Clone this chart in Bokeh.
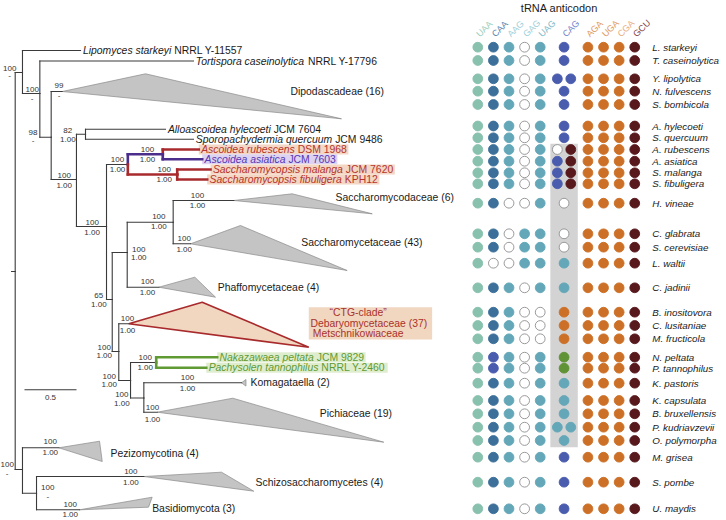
import math
from bokeh.plotting import figure
from bokeh.models import Range1d, ColumnDataSource
from bokeh.layouts import row
from bokeh.embed import file_html
from bokeh.resources import INLINE
from bokeh.core.properties import value

# ------------------------------------------------------------------ data
# tree nodes: depth = substitutions/site from root, row = vertical slot
node_names = ["root", "A", "Lip", "A2", "Tort", "A3", "Dipo", "A4", "AS", "Allo", "Sporo",
              "A5", "ASC", "Asc", "Arub", "Aasi", "Sac", "Smal", "Sfib", "A6", "A7", "A9",
              "Sccod", "Sctac", "Phaff", "A8", "CTG", "A10", "NP", "Npel", "Ptan", "A11",
              "Koma", "Pichia", "B", "Pezizo", "C", "Schizo", "Basidio"]
node_depth = [0.000, 0.070, 0.628, 0.237, 1.714, 0.346, 0.452, 0.589, 0.676, 1.445, 1.714,
              0.878, 1.083, 1.419, 1.765, 1.798, 1.558, 1.878, 1.846, 0.933, 1.077, 1.519,
              2.102, 1.686, 1.381, 0.996, 1.092, 1.109, 1.356, 1.942, 1.837, 1.237,
              2.176, 1.365, 0.070, 0.419, 0.205, 1.237, 0.618]
node_row = [271.0, 72.0, 50.0, 93.0, 60.5, 136.7, 91.0, 179.0, 133.7, 128.7, 138.7,
            226.0, 164.0, 153.8, 149.0, 158.7, 174.0, 169.0, 179.0, 299.0, 252.0, 221.7,
            200.0, 243.3, 286.7, 351.0, 323.3, 380.0, 362.0, 356.7, 367.3, 397.5,
            382.3, 411.7, 469.0, 447.3, 492.7, 476.0, 509.3]

edge_parent = ["root", "root", "A", "A", "A2", "A2", "A3", "A3", "A4", "A4", "AS", "AS",
               "A5", "A5", "ASC", "ASC", "Asc", "Asc", "Sac", "Sac", "A6", "A6", "A7", "A7",
               "A9", "A9", "A8", "A8", "A10", "A10", "NP", "NP", "A11", "A11", "B", "B", "C", "C"]
edge_child = ["A", "B", "Lip", "A2", "Tort", "A3", "Dipo", "A4", "AS", "A5", "Allo", "Sporo",
              "ASC", "A6", "Asc", "Sac", "Arub", "Aasi", "Smal", "Sfib", "A7", "A8", "A9", "Phaff",
              "Sccod", "Sctac", "CTG", "A10", "NP", "A11", "Npel", "Ptan", "Koma", "Pichia",
              "Pezizo", "C", "Schizo", "Basidio"]
edge_group = ["k"] * 14 + ["purple", "red", "red", "purple", "red", "red"] + ["k"] * 10 + \
             ["green", "green"] + ["k"] * 6

leaf_node = ["Lip", "Tort", "Allo", "Sporo", "Arub", "Aasi", "Smal", "Sfib", "Npel", "Ptan"]
leaf_species = ["Lipomyces starkeyi", "Tortispora caseinolytica", "Alloascoidea hylecoeti",
                "Sporopachydermia quercuum", "Ascoidea rubescens", "Ascoidea asiatica",
                "Saccharomycopsis malanga", "Saccharomycopsis fibuligera",
                "Nakazawaea peltata", "Pachysolen tannophilus"]
leaf_strain = ["NRRL Y-11557", "NRRL Y-17796", "JCM 7604", "JCM 9486", "DSM 1968", "JCM 7603",
               "JCM 7620", "KPH12", "JCM 9829", "NRRL Y-2460"]
leaf_group = ["k", "k", "k", "k", "red", "purple", "red", "red", "green", "green"]

clade_node = ["Dipo", "Sccod", "Sctac", "Phaff", "CTG", "Koma", "Pichia", "Pezizo", "Schizo", "Basidio"]
clade_top_depth = [1.253, 2.663, 2.166, 1.727, 1.798, 2.219, 2.092, 0.811, 1.984, 1.317]
clade_top_row = [73.3, 193.3, 225.0, 276.7, 301.7, 379.0, 397.7, 440.7, 471.7, 496.7]
clade_bot_depth = [3.137, 3.433, 3.192, 1.926, 2.823, 2.219, 3.544, 0.837, 2.294, 1.282]
clade_bot_row = [118.3, 213.3, 270.0, 296.7, 346.7, 385.6, 441.7, 461.0, 490.7, 506.7]
clade_group = ["grey", "grey", "grey", "grey", "ctg", "grey", "grey", "grey", "grey", "grey"]

clade_text = ["Dipodascadeae (16)", "Saccharomycodaceae (6)", "Saccharomycetaceae (43)",
              "Phaffomycetaceae (4)", "Komagataella (2)", "Pichiaceae (19)",
              "Pezizomycotina (4)", "Schizosaccharomycetes (4)", "Basidiomycota (3)"]
clade_text_depth = [2.647, 3.080, 2.750, 1.948, 2.263, 2.929, 0.916, 2.311, 1.317]
clade_text_row = [91.0, 196.7, 241.7, 286.7, 382.3, 412.7, 452.7, 482.3, 508.3]

ctg_lines = ["\u201cCTG-clade\u201d", "Debaryomycetaceae  (37)", "Metschnikowiaceae"]

support_bs = ["100", "100", "98", "99", "100", "82", "100", "100", "100", "100", "65", "100", "100",
              "100", "100", "100", "100", "100", "100", "100", "100", "100", "100", "100", "100",
              "100", "100", "100"]
support_pp = ["-", "-", "-", "-", "1.00", "1.00", "1.00", "1.00", "1.00", "1.00", "1.00", "1.00",
              "1.00", "1.00", "1.00", "1.00", "1.00", "1.00", "1.00", "1.00", "1.00", "1.00",
              "1.00", "-", "1.00", "-", "1.00", "1.00"]
support_depth = [-0.053, 0.163, 0.171, 0.421, 0.471, 0.506, 0.984, 1.272, 1.433, 0.740, 0.804,
                 1.188, 1.381, 1.753, 1.625, 1.272, 0.856, 1.080, 0.904, 1.250, 1.025, 1.657,
                 1.320, -0.077, 0.337, 0.313, 1.112, 0.529]
support_row_top = [68.3, 89.3, 131.7, 85.0, 175.0, 130.0, 158.7, 149.0, 169.0, 221.7, 295.0,
                   249.0, 215.7, 194.7, 238.3, 280.7, 346.7, 318.3, 376.0, 357.3, 394.3, 376.7,
                   407.3, 464.3, 440.7, 487.3, 470.7, 504.0]
support_row_bot = [75.0, 98.3, 140.0, 95.0, 185.0, 139.0, 169.3, 158.7, 179.3, 232.3, 303.7,
                   256.7, 226.0, 205.3, 249.0, 291.7, 355.0, 330.0, 384.3, 367.3, 403.3, 387.7,
                   419.0, 472.7, 452.3, 496.0, 481.7, 514.3]

scale_len = 0.5

# tRNA anticodon matrix
anticodons = ["UAA", "CAA", "AAG", "GAG", "UAG", "CAG", "AGA", "UGA", "CGA", "GCU"]
anticodon_group = [0, 0, 0, 0, 0, 1, 2, 2, 2, 2]
matrix_species = ["L. starkeyi", "T. caseinolytica", "Y. lipolytica", "N. fulvescens", "S. bombicola",
                  "A. hylecoeti", "S. quercuum", "A. rubescens", "A. asiatica", "S. malanga",
                  "S. fibuligera", "H. vineae", "C. glabrata", "S. cerevisiae", "L. waltii",
                  "C. jadinii", "B. inositovora", "C. lusitaniae", "M. fructicola", "N. peltata",
                  "P. tannophilus", "K. pastoris", "K. capsulata", "B. bruxellensis",
                  "P. kudriavzevii", "O. polymorpha", "M. grisea", "S. pombe", "U. maydis"]
matrix_row = [46.7, 60.0, 78.3, 90.7, 104.0, 125.5, 137.3, 149.0, 160.7, 172.3, 183.3, 202.7,
              233.3, 246.7, 262.7, 287.3, 311.7, 325.0, 338.3, 356.7, 367.7, 382.7, 400.0,
              413.3, 426.7, 440.0, 456.7, 481.7, 508.3]
# first five tRNAs (f filled, o absent, p blue variant) | CAG tRNA(s) | last four
matrix_calls = ["fffof|B|ffff", "fffof|B|ffff", "fffof|BB|ffff", "fffof|B|ffff", "fffof|B|ffff",
                "fffof|B|ffff", "fffof|B|ffff", "fffof|OM|ffff", "fffof|BM|ffff", "fffof|BM|ffff",
                "fffof|BM|ffff", "ffoof|O|ffff", "ffoff|O|ffff", "ffoff|O|ffff", "fooff|T|ffff",
                "fffof|T|ffff", "fffoo|R|ffff", "fffoo|R|ffff", "fffoo|R|ffff", "fpfof|G|ffff",
                "fpfof|G|ffff", "fffof|T|ffff", "fffof|T|ffff", "fffof|T|ffff", "fffof|TT|ffff",
                "fffof|T|ffff", "fffof|B|ffff", "fffof|B|ffff", "fffof|B|ffff"]
cag_band_species = ["A. rubescens", "O. polymorpha"]

# ------------------------------------------------------------------ styling / layout
FONT = "Liberation Sans"
W, H = 726, 520
IMG_W, IMG_H = 726.0, 520.0
SX = W / IMG_W
TREE_W = 466
MAT_W = W - TREE_W
PXU = 104.0          # picture px per substitution unit
ROOT_PX = 14.7
COL_PX = 15.6        # picture px per anticodon column
COL0_PX = 477.3
GROUP_GAP = 0.53

TREE_COL = {"k": "#3a3a3a", "red": "#a82a2c", "purple": "#4b2d8c", "green": "#5f9b32"}
TEXT_COL = {"k": "#1a1a1a", "red": "#b3352d", "purple": "#5836b0", "green": "#5f9b32"}
BOX_COL = {"red": "#f3d6c3", "purple": "#ddd3f0", "green": "#dfedcf"}

DOT_DEFAULT = ["#88c1ad", "#3c6f99", "#63a7b8", "#63a7b8", "#63a7b8", "#4a5cae",
               "#cd7027", "#cd7027", "#cd7027", "#58191d"]
DOT_CODE = {"B": "#4a5cae", "T": "#63a7b8", "R": "#cd7027", "G": "#5f9335", "M": "#58191d",
            "p": "#4a5cae"}
HEAD_COL = ["#9ccdbc", "#5a86ad", "#9fd0da", "#9fd0da", "#80b9c8", "#7584c8",
            "#e09a62", "#e09a62", "#e8ad80", "#86474b"]

_chars = " !\"#$%&'()*+,-./0123456789:;<=>?@ABCDEFGHIJKLMNOPQRSTUVWXYZ[\\]^_`abcdefghijklmnopqrstuvwxyz{|}~"
_w = ([278, 278, 355, 556, 556, 889, 667, 191, 333, 333, 389, 584, 278, 333, 278, 278] + [556] * 10 +
      [278, 278, 584, 584, 584, 556, 1015] +
      [667, 667, 722, 722, 667, 611, 778, 722, 278, 500, 667, 556, 833, 722, 778, 667, 778, 722,
       667, 611, 722, 667, 944, 667, 667, 611] +
      [278, 278, 278, 469, 556, 333] +
      [556, 556, 500, 556, 556, 278, 556, 556, 222, 222, 500, 222, 833, 556, 556, 556, 556, 333,
       500, 278, 556, 500, 722, 500, 500, 500] + [334, 260, 334, 584])
AW = dict(zip(_chars, _w))
AW["\u201c"] = 333
AW["\u201d"] = 333


def tw(s, fs):
    return sum(AW.get(c, 556) for c in s) / 1000.0 * fs


def fpx(v):
    return "%.2fpx" % (v * SX)


pos = {n: (d, r) for n, d, r in zip(node_names, node_depth, node_row)}
yr = Range1d(IMG_H, 0)

# ------------------------------------------------------------------ tree panel
p1 = figure(width=TREE_W, height=H, output_backend="svg", toolbar_location=None,
            x_range=Range1d(-ROOT_PX / PXU, (TREE_W / SX - ROOT_PX) / PXU), y_range=yr,
            x_axis_location=None, y_axis_location=None, min_border=0,
            outline_line_color=None)
p1.grid.visible = False

# collapsed clades
for grp, fill, line, lw in [("grey", "#c4c4c4", "#8a8a8a", 0.7), ("ctg", "#f1d6c0", "#a82a2c", 1.6)]:
    xs, ys = [], []
    for n, td, tr, bd, br, g in zip(clade_node, clade_top_depth, clade_top_row,
                                    clade_bot_depth, clade_bot_row, clade_group):
        if g != grp:
            continue
        d, r = pos[n]
        xs.append([d, td, bd])
        ys.append([r, tr, br])
    p1.patches(xs, ys, fill_color=fill, line_color=line, line_width=lw)

# boxes behind coloured leaf names
LEAF_FS = 10.4
box = dict(left=[], right=[], top=[], bottom=[], c=[])
for n, sp, st, g in zip(leaf_node, leaf_species, leaf_strain, leaf_group):
    if g == "k":
        continue
    d, r = pos[n]
    wpx = 2.0 + tw(sp + " " + st, LEAF_FS) + 2.0
    box["left"].append(d)
    box["right"].append(d + wpx / PXU)
    box["top"].append(r - 5.0)
    box["bottom"].append(r + 5.0)
    box["c"].append(BOX_COL[g])
p1.quad(source=ColumnDataSource(box), left="left", right="right", top="top", bottom="bottom",
        fill_color="c", line_color=None)

# CTG label box (starts at the clade's deepest tip)
ci = clade_node.index("CTG")
ctg_left = clade_bot_depth[ci]
CTG_FS = 10.4
ctg_w = 1.7 + tw(ctg_lines[1], CTG_FS) + 2.0
p1.quad(left=[ctg_left], right=[ctg_left + ctg_w / PXU], top=[306.7], bottom=[339.0],
        fill_color="#f1d6c0", line_color=None)

# branches
for grp_set, lw in [(("k",), 1.1), (("red", "purple", "green"), 2.6)]:
    seg = dict(x0=[], y0=[], x1=[], y1=[], c=[])
    for par, ch, g in zip(edge_parent, edge_child, edge_group):
        if g not in grp_set:
            continue
        pd, py = pos[par]
        cd, cy = pos[ch]
        for a in [(pd, py, pd, cy), (pd, cy, cd, cy)]:
            seg["x0"].append(a[0]); seg["y0"].append(a[1])
            seg["x1"].append(a[2]); seg["y1"].append(a[3])
            seg["c"].append(TREE_COL[g])
    p1.segment(source=ColumnDataSource(seg), x0="x0", y0="y0", x1="x1", y1="y1",
               line_color="c", line_width=lw, line_cap="square")

# root stub
rd, rr = pos["root"]
p1.segment(x0=[rd - 0.04], y0=[rr], x1=[rd], y1=[rr], line_color=TREE_COL["k"], line_width=1.1)

# leaf names: italic species + roman strain
lab = dict(x=[], y=[], sp=[], st=[], off1=[], off2=[], c=[])
for n, sp, st, g in zip(leaf_node, leaf_species, leaf_strain, leaf_group):
    d, r = pos[n]
    lab["x"].append(d); lab["y"].append(r)
    lab["sp"].append(sp); lab["st"].append(st)
    lab["off1"].append(2.4 * SX)
    lab["off2"].append((2.4 + tw(sp + " ", LEAF_FS)) * SX)
    lab["c"].append(TEXT_COL[g])
src_lab = ColumnDataSource(lab)
p1.text(source=src_lab, x="x", y="y", text="sp", x_offset="off1", text_color="c",
        text_font=value(FONT), text_font_style="italic", text_font_size=fpx(LEAF_FS),
        text_baseline="middle", text_align="left")
p1.text(source=src_lab, x="x", y="y", text="st", x_offset="off2", text_color="c",
        text_font=value(FONT), text_font_size=fpx(LEAF_FS),
        text_baseline="middle", text_align="left")

# clade names
p1.text(x=clade_text_depth, y=clade_text_row, text=clade_text, text_color="#1a1a1a",
        text_font=value(FONT), text_font_size=fpx(10.4), text_baseline="middle", text_align="left")

# CTG clade text
ctg_center = (1.7 + tw("Debaryomycetaceae", CTG_FS) / 2.0) * SX
p1.text(x=[ctg_left, ctg_left, ctg_left], y=[312.3, 322.7, 333.3], text=ctg_lines,
        x_offset=[ctg_center, 1.7 * SX, ctg_center], text_align=["center", "left", "center"],
        text_color="#a8322c", text_font=value(FONT), text_font_size=fpx(CTG_FS),
        text_baseline="middle")

# support values
p1.text(x=support_depth, y=support_row_top, text=support_bs, text_color="#333333",
        text_font=value(FONT), text_font_size=fpx(8.0), text_align="center", text_baseline="middle")
p1.text(x=support_depth, y=support_row_bot, text=support_pp, text_color="#333333",
        text_font=value(FONT), text_font_size=fpx(8.0), text_align="center", text_baseline="middle")

# scale bar
sb0 = (24.0 - ROOT_PX) / PXU
p1.segment(x0=[sb0], y0=[389.3], x1=[sb0 + scale_len], y1=[389.3], line_color="#3a3a3a", line_width=1.1)
p1.text(x=[sb0 + scale_len / 2], y=[396.5], text=[str(scale_len)], text_color="#333333",
        text_font=value(FONT), text_font_size=fpx(8.0), text_align="center", text_baseline="middle")

# ------------------------------------------------------------------ anticodon panel
col_pos = [i + GROUP_GAP * g for i, g in enumerate(anticodon_group)]
mx0 = (TREE_W / SX - COL0_PX) / COL_PX
mx1 = (IMG_W - COL0_PX) / COL_PX
p2 = figure(width=MAT_W, height=H, output_backend="svg", toolbar_location=None,
            x_range=Range1d(mx0, mx1), y_range=yr,
            x_axis_location=None, y_axis_location=None, min_border=0,
            outline_line_color=None)
p2.grid.visible = False

cag = col_pos[anticodons.index("CAG")]
rt = matrix_row[matrix_species.index(cag_band_species[0])]
rb = matrix_row[matrix_species.index(cag_band_species[1])]
p2.quad(left=[cag - 0.88], right=[cag + 0.88], top=[rt - 5.7], bottom=[rb + 6.7],
        fill_color="#d3d3d3", line_color=None)

dots = dict(x=[], y=[], fill=[], line=[])
for sp, r, call in zip(matrix_species, matrix_row, matrix_calls):
    first, mid, last = call.split("|")
    codes = list(first) + [mid] + list(last)
    for j, code in enumerate(codes):
        cx = col_pos[j]
        if len(code) == 2:
            items = [(cx - 0.43, code[0]), (cx + 0.43, code[1])]
        else:
            items = [(cx, code)]
        for x, c in items:
            if c == "o" or c == "O":
                fill, line = "#ffffff", "#8f8f8f"
            elif c == "f":
                fill = line = DOT_DEFAULT[j]
            else:
                fill = line = DOT_CODE[c]
            dots["x"].append(x); dots["y"].append(r)
            dots["fill"].append(fill); dots["line"].append(line)
p2.scatter(source=ColumnDataSource(dots), x="x", y="y", marker="circle", size=9.8,
           fill_color="fill", line_color="line", line_width=0.9)

p2.text(x=[c for c in col_pos], y=[35.0] * len(col_pos), text=anticodons, angle=math.pi / 4,
        text_color=HEAD_COL, text_font=value(FONT),
        text_font_size=fpx(9.0), text_align="left", text_baseline="alphabetic")
p2.text(x=[(col_pos[0] + col_pos[-1]) / 2 + 0.2], y=[7.5], text=["tRNA anticodon"],
        text_color="#1a1a1a", text_font=value(FONT), text_font_size=fpx(11.0),
        text_align="center", text_baseline="middle")
p2.text(x=[col_pos[-1] + 1.13] * len(matrix_species), y=matrix_row, text=matrix_species,
        text_color="#1a1a1a", text_font=value(FONT), text_font_style="italic",
        text_font_size=fpx(9.8), text_align="left", text_baseline="middle")

layout = row(p1, p2)
open("out.html", "w").write(file_html(layout, INLINE))
